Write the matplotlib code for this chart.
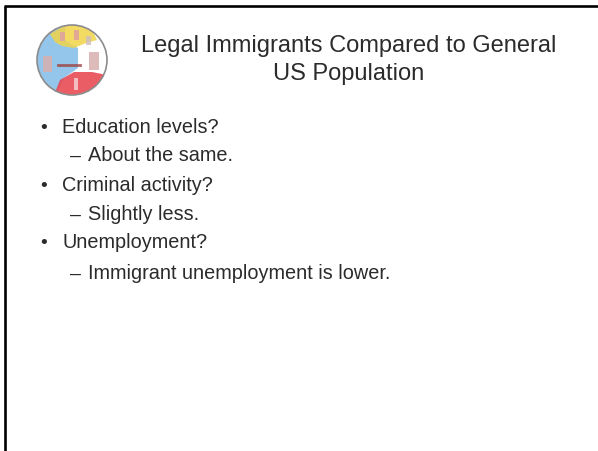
import matplotlib.pyplot as plt
from matplotlib.patches import Circle, Polygon, Rectangle

# slide content
title_lines = ["Legal Immigrants Compared to General", "US Population"]
items = ["Education levels?", "About the same.",
         "Criminal activity?", "Slightly less.",
         "Unemployment?", "Immigrant unemployment is lower."]
levels = [1, 2, 1, 2, 1, 2]
baselines = [133, 161, 191, 220, 248, 279]

plt.rcParams['font.family'] = ['Liberation Sans', 'DejaVu Sans']
ink = "#2b2b2b"

fig = plt.figure(figsize=(5.98, 4.51), dpi=100)
ax = fig.add_axes([0, 0, 1, 1])
ax.set_xlim(0, 598)
ax.set_ylim(451, 0)
ax.axis("off")

# slide border (left and top only)
ax.plot([5, 5], [5.5, 451], color="black", lw=1.9, solid_capstyle="butt")
ax.plot([4, 598], [6, 6], color="black", lw=1.9, solid_capstyle="butt")

# logo, roughly
cx, cy, r = 72, 60, 35
disc = Circle((cx, cy), r, facecolor="white", edgecolor="none")
ax.add_patch(disc)
shapes = [
    Polygon([(cx - 40, cy - 40), (cx - 6, cy - 40), (cx - 8, cy - 20), (cx + 6, cy - 12),
             (cx + 6, cy + 8), (cx - 8, cy + 18), (cx - 20, cy + 40), (cx - 40, cy + 40)],
            facecolor="#82bce8", edgecolor="none"),
    Polygon([(cx - 22, cy - 26), (cx - 10, cy - 33), (cx + 6, cy - 37), (cx + 20, cy - 30),
             (cx + 25, cy - 20), (cx + 14, cy - 17), (cx + 2, cy - 12), (cx - 10, cy - 14),
             (cx - 17, cy - 18)], facecolor="#f0d448", edgecolor="none"),
    Polygon([(cx - 20, cy + 40), (cx - 12, cy + 20), (cx + 2, cy + 12), (cx + 20, cy + 12),
             (cx + 40, cy + 16), (cx + 40, cy + 40)], facecolor="#e8404a", edgecolor="none"),
    Rectangle((cx - 29, cy - 4), 9, 16, facecolor="#d8b0b0", edgecolor="none"),
    Rectangle((cx + 17, cy - 8), 10, 18, facecolor="#d8b0b0", edgecolor="none"),
    Rectangle((cx - 12, cy - 28), 5, 9, facecolor="#e0a0a0", edgecolor="none"),
    Rectangle((cx + 2, cy - 30), 5, 10, facecolor="#e0a0a0", edgecolor="none"),
    Rectangle((cx + 14, cy - 24), 5, 9, facecolor="#d0c0c0", edgecolor="none"),
    Rectangle((cx + 2, cy + 18), 4, 12, facecolor="#f4d0d0", edgecolor="none"),
]
for p in shapes:
    p.set_alpha(0.85)
    ax.add_patch(p)
    p.set_clip_path(disc)
ax.plot([cx - 14, cx + 8], [cy + 5, cy + 5], color="#a04040", lw=2, alpha=0.8)
ax.add_patch(Circle((cx, cy), r, facecolor="none", edgecolor="#8c8c8c", lw=1.2))

# title
ax.text(349, 52, title_lines[0], fontsize=17, color=ink, ha="center", va="baseline")
ax.text(349, 80, title_lines[1], fontsize=17, color=ink, ha="center", va="baseline")

# bullets
for txt, lev, yb in zip(items, levels, baselines):
    if lev == 1:
        ax.text(44, yb, "\u2022", fontsize=14, color=ink, ha="center", va="baseline")
        ax.text(62, yb, txt, fontsize=14.3, color=ink, ha="left", va="baseline")
    else:
        ax.text(75, yb, "\u2013", fontsize=14, color=ink, ha="center", va="baseline")
        ax.text(88, yb, txt, fontsize=14.3, color=ink, ha="left", va="baseline")

fig.savefig("out.png", dpi=100)
